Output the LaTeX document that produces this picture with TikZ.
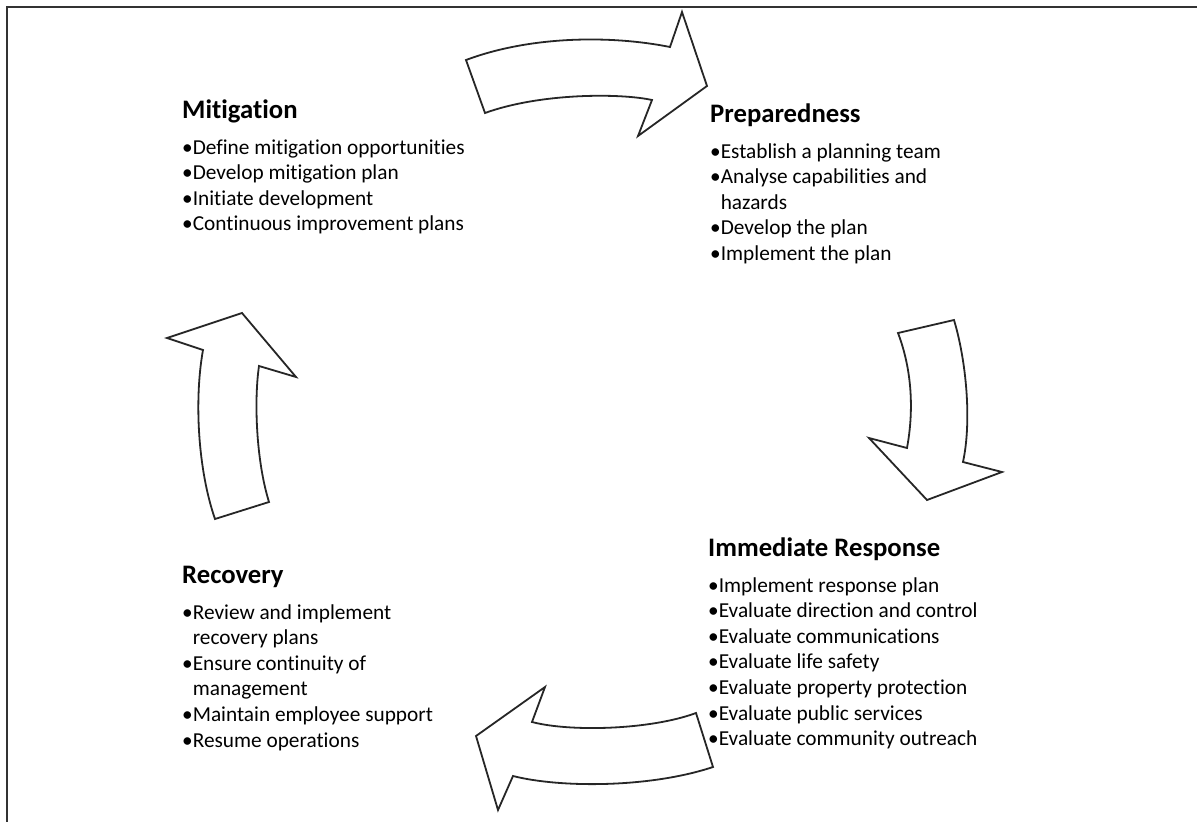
\documentclass[tikz,border=0pt]{standalone}
\usepackage{fontspec}
\setmainfont{Carlito}[Ligatures=NoCommon]
\usetikzlibrary{positioning}

\begin{document}
\begin{tikzpicture}[
  x=1pt,y=-1pt,
  head/.style={anchor=base west,inner sep=0pt,
    font=\fontsize{26.7}{32}\selectfont\bfseries},
  items/.style={inner sep=0pt,align=left,
    font=\fontsize{21.3}{25.6}\selectfont},
  cyc/.style={draw=black!85,fill=white,line width=1.8pt,line join=miter},
  frame/.style={draw=black!80,line width=2pt}
]
\useasboundingbox (0,0) rectangle (1197,822);
\draw[frame] (7,822) -- (7,7) -- (1197,7);

\node[head] (mit) at (182,118) {Mitigation};
\node[items,below=112.8pt of mit.base west,anchor=base west] (mitlist)
  {•Define mitigation opportunities\\•Develop mitigation plan\\
   •Initiate development\\•Continuous improvement plans};

\node[head] (prep) at (710,122) {Preparedness};
\node[items,below=138.4pt of prep.base west,anchor=base west] (preplist)
  {•Establish a planning team\\•Analyse capabilities and\\\hphantom{•}hazards\\
   •Develop the plan\\•Implement the plan};

\node[head] (resp) at (708,556) {Immediate Response};
\node[items,below=189.6pt of resp.base west,anchor=base west] (resplist)
  {•Implement response plan\\•Evaluate direction and control\\
   •Evaluate communications\\•Evaluate life safety\\
   •Evaluate property protection\\•Evaluate public services\\
   •Evaluate community outreach};

\node[head] (rec) at (182,583) {Recovery};
\node[items,below=164pt of rec.base west,anchor=base west] (reclist)
  {•Review and implement\\\hphantom{•}recovery plans\\•Ensure continuity of\\
   \hphantom{•}management\\•Maintain employee support\\•Resume operations};

\draw[cyc] (466,60) .. controls (530,36) and (610,35) .. (670,47) -- (682,12)
  -- (707,86) -- (638,136) -- (652,100)
  .. controls (620,93) and (540,93) .. (485,113) -- cycle;
\draw[cyc] (898,333) -- (954,320) .. controls (966,360) and (972,420) .. (963,462)
  -- (1002,472) -- (927,500) -- (869,438) -- (907,448)
  .. controls (914,410) and (912,370) .. cycle;
\draw[cyc] (696,713) .. controls (650,730) and (570,732) .. (532,722) -- (545,687)
  -- (476,736) -- (498,810) -- (513,776)
  .. controls (560,788) and (650,788) .. (713,767) -- cycle;
\draw[cyc] (215,519) -- (269,502) .. controls (256,460) and (254,400) .. (259,366)
  -- (296,377) -- (242,313) -- (167,338) -- (203,350)
  .. controls (194,400) and (198,470) .. cycle;
\end{tikzpicture}
\end{document}
